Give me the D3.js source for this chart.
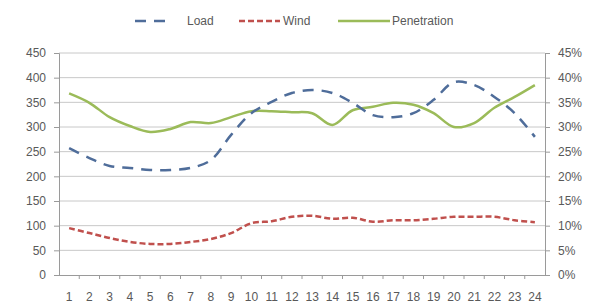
<!DOCTYPE html>
<html>
<head>
<meta charset="utf-8">
<script src="https://cdn.jsdelivr.net/npm/d3@7"></script>
<style>
  body { margin: 0; background: #fff; }
  #chart { width: 595px; height: 304px; }
  text { font-family: "Liberation Sans", Arial, sans-serif; fill: #595959; }
</style>
</head>
<body>
<div id="chart"></div>
<script>
const hours = d3.range(1, 25).map(String);
const load = [257, 237, 221, 217, 213, 213, 217, 233, 284, 328, 351, 369,
              375, 369, 349, 324, 320, 328, 355, 391, 385, 361, 328, 280];
const wind = [95, 85, 75, 67, 63, 63, 67, 73, 85, 105, 109, 118,
              120, 114, 116, 108, 111, 111, 114, 118, 118, 118, 111, 107];
const penetration = [36.8, 34.9, 32.0, 30.2, 29.0, 29.6, 31.0, 30.8, 32.0, 33.2, 33.2, 33.0,
                     32.8, 30.4, 33.4, 34.1, 34.9, 34.5, 32.8, 30.0, 30.8, 33.9, 36.1, 38.5];
const leftTicks = d3.range(0, 451, 50);
const rightTicks = d3.range(0, 46, 5);

const width = 595, height = 304;
const margin = { top: 53, right: 50, bottom: 29, left: 59 };

const svg = d3.select("#chart").append("svg")
  .attr("width", width).attr("height", height);

const x = d3.scaleBand().domain(hours)
  .range([margin.left, width - margin.right]);
const y = d3.scaleLinear().domain([0, 450])
  .range([height - margin.bottom, margin.top]);
const y2 = d3.scaleLinear().domain([0, 45])
  .range([height - margin.bottom, margin.top]);

// gridlines
svg.append("g")
  .selectAll("line")
  .data(leftTicks.slice(1))
  .enter().append("line")
  .attr("x1", margin.left).attr("x2", width - margin.right)
  .attr("y1", d => y(d)).attr("y2", d => y(d))
  .attr("stroke", "#c8c8c8").attr("stroke-width", 1);

// left axis
const gl = svg.append("g")
  .attr("transform", `translate(${margin.left},0)`)
  .call(d3.axisLeft(y).tickValues(leftTicks).tickSize(5).tickPadding(8));
// right axis
const gr = svg.append("g")
  .attr("transform", `translate(${width - margin.right},0)`)
  .call(d3.axisRight(y2).tickValues(rightTicks).tickSize(5).tickPadding(8)
    .tickFormat(d => d + "%"));
// bottom axis
const gb = svg.append("g")
  .attr("transform", `translate(0,${height - margin.bottom})`)
  .call(d3.axisBottom(x).tickSize(0).tickPadding(17));

[gl, gr, gb].forEach(g => {
  g.selectAll("path, line").attr("stroke", "#9a9a9a");
  g.selectAll("text").attr("font-size", 12).attr("fill", "#595959")
    .style("font-family", "'Liberation Sans', Arial, sans-serif");
});
gb.select(".domain").attr("d", `M${margin.left - 5},0.5H${width - margin.right + 5}`);

// category boundary ticks
svg.append("g")
  .selectAll("line")
  .data(hours.slice(1))
  .enter().append("line")
  .attr("x1", d => x(d)).attr("x2", d => x(d))
  .attr("y1", height - margin.bottom).attr("y2", height - margin.bottom + 4)
  .attr("stroke", "#9a9a9a");

const cx = (d, i) => x(hours[i]) + x.bandwidth() / 2;

const lineL = d3.line().x(cx).y(d => y(d)).curve(d3.curveCatmullRom.alpha(0.5));
const lineP = d3.line().x(cx).y(d => y2(d)).curve(d3.curveCatmullRom.alpha(0.5));

svg.append("path").datum(penetration)
  .attr("d", lineP).attr("fill", "none")
  .attr("stroke", "#9bbb59").attr("stroke-width", 2.5);

svg.append("path").datum(load)
  .attr("d", lineL).attr("fill", "none")
  .attr("stroke", "#4f6d9a").attr("stroke-width", 2.5)
  .attr("stroke-dasharray", "11,8");

svg.append("path").datum(wind)
  .attr("d", lineL).attr("fill", "none")
  .attr("stroke", "#c0504d").attr("stroke-width", 2.5)
  .attr("stroke-dasharray", "6,3");

// legend
const legend = [
  { name: "Load", color: "#4f6d9a", dash: "11,8", x0: 135, x1: 173, tx: 187 },
  { name: "Wind", color: "#c0504d", dash: "6,3", x0: 239, x1: 280, tx: 283 },
  { name: "Penetration", color: "#9bbb59", dash: null, x0: 338, x1: 390, tx: 392 }
];
const lg = svg.append("g");
legend.forEach(l => {
  lg.append("line")
    .attr("x1", l.x0).attr("x2", l.x1).attr("y1", 21).attr("y2", 21)
    .attr("stroke", l.color).attr("stroke-width", 2.5)
    .attr("stroke-dasharray", l.dash);
  lg.append("text")
    .attr("x", l.tx).attr("y", 25)
    .attr("font-size", 12)
    .text(l.name);
});
</script>
</body>
</html>
